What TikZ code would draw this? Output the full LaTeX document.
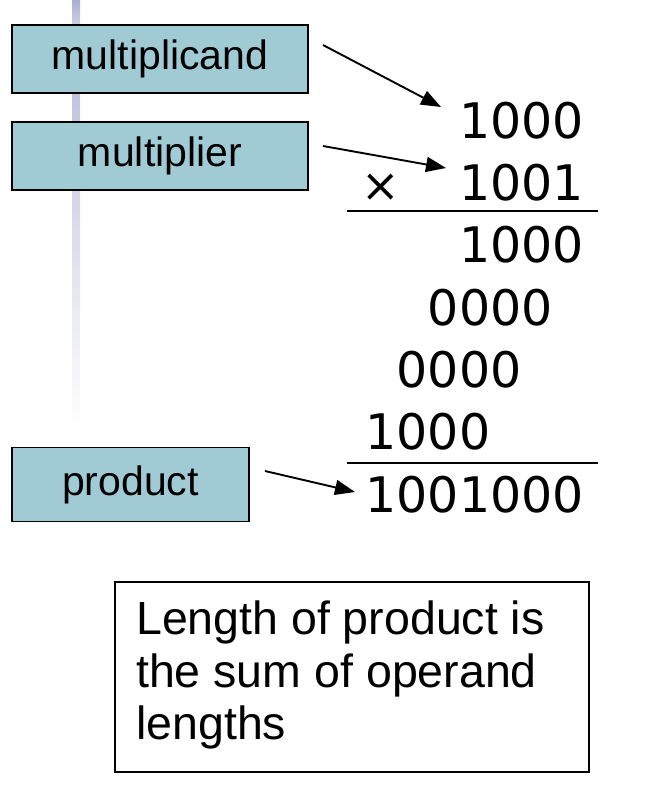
\documentclass[tikz,border=0pt]{standalone}
\usepackage{fontspec}
\setmainfont{Liberation Sans}
\newfontfamily\numfont{DejaVu Sans}
\usetikzlibrary{arrows.meta}
\definecolor{boxteal}{RGB}{160,203,213}
\definecolor{barblue}{RGB}{170,174,208}
\begin{document}
\begin{tikzpicture}[x=1pt,y=-1pt,
  label box/.style={draw=black,line width=1.6pt,fill=boxteal,inner sep=0pt,
    font=\fontsize{41}{41}\selectfont},
  ptr/.style={line width=1.9pt,-{Triangle[length=20pt,width=15pt]}},
  num/.style={anchor=base east,inner sep=0pt,font=\numfont\fontsize{49}{49}\selectfont},
  rule/.style={line width=1.8pt}]
\useasboundingbox (0,0) rectangle (661,800);
% decorative bar
\shade[top color=barblue,bottom color=white] (72,0) rectangle (80,60);
\shade[top color=barblue!80!white,bottom color=white] (72,60) rectangle (80,428);
% label boxes
\node[label box,minimum width=296pt,minimum height=68pt] (mc) at (160,59) {multiplicand};
\node[label box,minimum width=296pt,minimum height=68pt] (mp) at (160,156) {multiplier};
\node[label box,minimum width=237pt,minimum height=74pt] (pr) at (130.5,484.5) {product};
% numbers
\node[num] (r1) at (584,138) {1000};
\node[num] (r2) at (584,200) {1001};
\node[anchor=base,inner sep=0pt,font=\numfont\fontsize{46}{46}\selectfont] (times) at (381,201) {×};
\node[num] (r3) at (584,262) {1000};
\node[num] (r4) at (584,325) {0000\phantom{0}};
\node[num] (r5) at (584,387) {0000\phantom{00}};
\node[num] (r6) at (584,449) {1000\phantom{000}};
\node[num] (r7) at (584,512) {1001000};
\coordinate (l1a) at (347,211); \coordinate (l1b) at (598,211);
\coordinate (l2a) at (347,463); \coordinate (l2b) at (598,463);
\draw[rule] (l1a) -- (l1b);
\draw[rule] (l2a) -- (l2b);
% arrows
\coordinate (a1s) at (323,45); \coordinate (a1e) at (441,107);
\coordinate (a2s) at (323,146); \coordinate (a2e) at (446,168);
\coordinate (a3s) at (265,471); \coordinate (a3e) at (355,492);
\draw[ptr] (a1s) -- (a1e);
\draw[ptr] (a2s) -- (a2e);
\draw[ptr] (a3s) -- (a3e);
% note box
\node[draw=black,line width=1.5pt,minimum width=474pt,minimum height=190pt,inner sep=0pt] (note) at (352,677) {};
\node[anchor=north west,align=left,inner sep=0pt,font=\fontsize{46.5}{52.5}\selectfont] (notetext) at (136,601)
  {Length of product is\\the sum of operand\\lengths};
\end{tikzpicture}
\end{document}
